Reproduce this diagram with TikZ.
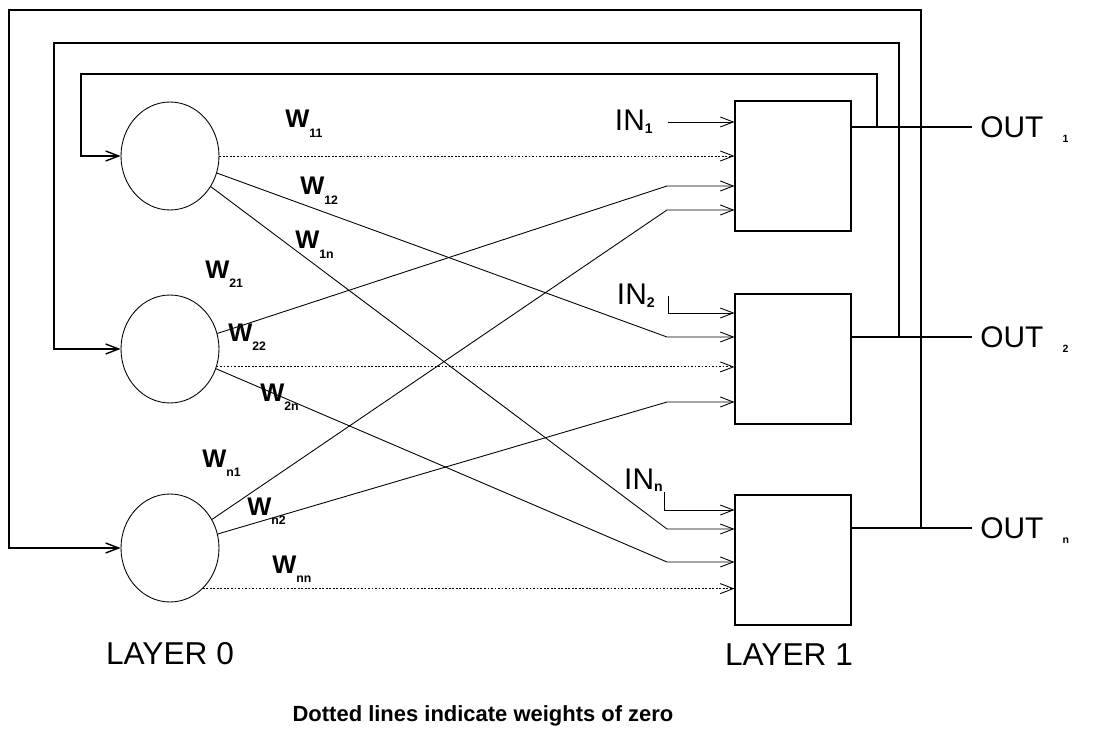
\documentclass[tikz,border=0pt]{standalone}
\usepackage{fontspec}
\setmainfont{Liberation Sans}
\usepackage{tikz}
\usetikzlibrary{shapes.geometric, arrows.meta, positioning}

\newcommand{\wsub}[1]{\raisebox{-5.5pt}{\fontsize{7}{7}\selectfont\bfseries #1}}
\newcommand{\insub}[1]{\raisebox{-1.5pt}{\fontsize{8}{8}\selectfont\bfseries #1}}
\newcommand{\outsub}[1]{\hspace{11pt}\raisebox{-3pt}[0pt][0pt]{\fontsize{6}{6}\selectfont\bfseries #1}}

\begin{document}
\begin{tikzpicture}[
    x=0.02cm, y=-0.02cm,
    every node/.style = {inner sep=0pt},
    neuron/.style = {ellipse, draw, line width=0.5pt,
        minimum width=1.96cm, minimum height=2.16cm},
    unitbox/.style = {rectangle, draw, line width=0.6pt,
        minimum width=2.32cm, minimum height=2.6cm},
    wlbl/.style = {anchor=base west, font=\fontsize{14.5}{15}\selectfont\bfseries},
    inlbl/.style = {font=\fontsize{17}{18}\selectfont},
    outlbl/.style = {anchor=west, inner xsep=0.16cm, font=\fontsize{17}{18}\selectfont},
    layerlbl/.style = {font=\fontsize{18}{20}\selectfont},
    wire/.style = {line width=0.5pt, -{Straight Barb[length=0.26cm, width=0.2cm]}},
    zero/.style = {wire, dash pattern=on 1pt off 1pt},
    loopwire/.style = {line width=0.8pt, -{Straight Barb[length=0.26cm, width=0.2cm]}},
    outwire/.style = {line width=1pt},
]
\useasboundingbox (0,0) rectangle (1109,733);

% Layer 0: neurons
\node[neuron] (c1) at (170,156) {};
\node[neuron] (c2) at (170,349) {};
\node[neuron] (c3) at (170,548) {};

% Layer 1: units
\node[unitbox] (b1) at (793,166) {};
\node[unitbox] (b2) at (793,359) {};
\node[unitbox] (b3) at (793,560) {};

% Layer names and note
\node[layerlbl, below=0.8cm of c3]  (l0) {LAYER 0};
\node[layerlbl, below=0.36cm of b3, xshift=-0.08cm] (l1) {LAYER 1};
\node[font=\fontsize{12.5}{14}\selectfont\bfseries] (note) at (483,716)
    {Dotted lines indicate weights of zero};

% External inputs
\node[inlbl, anchor=east, inner xsep=0.3cm]  (in1) at (668,122) {IN\insub{1}};
\node[inlbl, anchor=east, inner xsep=0.26cm] (in2) at (668,296) {IN\insub{2}};
\node[inlbl, anchor=south east, inner xsep=0.02cm] (inn) at (664,492) {IN\insub{n}};
\draw[wire] (in1.east) -- (b1.west |- in1.east);
\draw[wire] (in2.east) |- (b2.west |- 0,313);
\draw[wire] (inn.south east) |- (b3.west |- 0,510);

% Outputs
\node[outlbl] (o1) at (972,127) {OUT\outsub{1}};
\node[outlbl] (o2) at (972,337) {OUT\outsub{2}};
\node[outlbl] (on) at (972,528) {OUT\outsub{n}};
\draw[outwire] (b1.east |- o1.west) -- (o1.west);
\draw[outwire] (b2.east |- o2.west) -- (o2.west);
\draw[outwire] (b3.east |- on.west) -- (on.west);

% Feedback loops
\coordinate (tap1) at (877,127);
\coordinate (tap2) at (899,337);
\coordinate (tapn) at (921,528);
\draw[loopwire] (tap1) |- (81,74) |- (c1.west);
\draw[loopwire] (tap2) |- (54,43) |- (c2.west);
\draw[loopwire] (tapn) |- (9,10)  |- (c3.west);

% Weights
\draw[zero] (c1.east) -- (b1.west |- c1.east);
\draw[wire] (c1) -- (667,337) -- (b2.west |- 0,337);
\draw[wire] (c1) -- (667,529) -- (b3.west |- 0,529);
\draw[wire] (c2) -- (667,186) -- (b1.west |- 0,186);
\draw[zero] (c2.-21) -- (b2.west |- c2.-21);
\draw[wire] (c2) -- (667,562) -- (b3.west |- 0,562);
\draw[wire] (c3) -- (667,210) -- (b1.west |- 0,210);
\draw[wire] (c3) -- (667,402) -- (b2.west |- 0,402);
\draw[zero] (c3.-51) -- (b3.west |- c3.-51);

% Weight labels
\node[wlbl] (w11) at (285,128) {W\wsub{11}};
\node[wlbl] (w12) at (300,195) {W\wsub{12}};
\node[wlbl] (w1n) at (295,249) {W\wsub{1n}};
\node[wlbl] (w21) at (205,278) {W\wsub{21}};
\node[wlbl] (w22) at (228,341) {W\wsub{22}};
\node[wlbl] (w2n) at (260,401) {W\wsub{2n}};
\node[wlbl] (wn1) at (202,467) {W\wsub{n1}};
\node[wlbl] (wn2) at (247,515) {W\wsub{n2}};
\node[wlbl] (wnn) at (272,573) {W\wsub{nn}};

\end{tikzpicture}
\end{document}
